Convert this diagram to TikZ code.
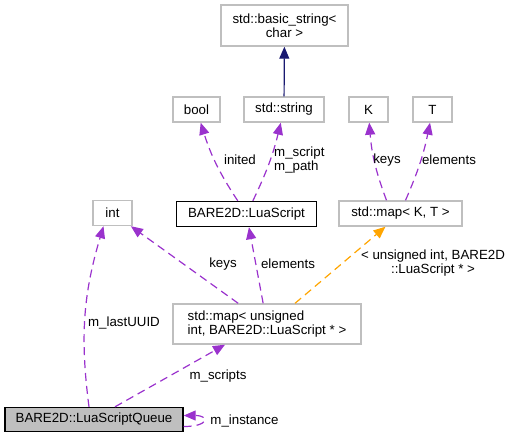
\documentclass[tikz,border=0pt]{standalone}
\usepackage{fontspec}
\setmainfont{Liberation Sans}
\usetikzlibrary{arrows.meta}
\definecolor{edgepurple}{HTML}{9A32CD}
\definecolor{edgeorange}{HTML}{FFA500}
\definecolor{edgenavy}{HTML}{191970}
\definecolor{boxgray}{HTML}{BFBFBF}
\tikzset{cls/.style = {draw=boxgray, line width=1.4pt, inner sep=0, align=center,
                       minimum height=25pt, font=\fontsize{13.3}{14.5}\selectfont}}
\tikzset{mcls/.style = {cls, draw=black}}
\tikzset{qcls/.style = {cls, draw=black, fill=boxgray}}
\tikzset{lbl/.style = {inner sep=0, align=center, font=\fontsize{13.3}{14.5}\selectfont}}
\tikzset{usage/.style = {edgepurple, line width=1.2pt, dash pattern=on 8pt off 5pt,
                         -{Triangle[length=12pt,width=10pt]}}}
\tikzset{tmpl/.style = {usage, edgeorange}}
\tikzset{inherit/.style = {edgenavy, line width=1.2pt, -{Triangle[length=12pt,width=10pt]}}}

\begin{document}
\begin{tikzpicture}[x=1pt, y=1pt]
      \useasboundingbox (0,0) rectangle (513,-440);
      \node [cls, minimum width=127pt, minimum height=41pt] (bstring) at (284.5, -25.5) {std::basic\_string<\\char >};
      \node [cls, minimum width=47pt] (bool) at (196.5, -109.5) {bool};
      \node [cls, minimum width=80pt] (sstring) at (284, -109.5) {std::string};
      \node [cls, minimum width=39pt] (K) at (368.5, -109.5) {K};
      \node [cls, minimum width=39pt] (T) at (432.5, -109.5) {T};
      \node [cls, minimum width=39pt] (int) at (112.5, -213) {int};
      \node [mcls, minimum width=140pt] (lscript) at (246.5, -214) {BARE2D::LuaScript};
      \node [cls, minimum width=123pt] (mapkt) at (400.5, -213.5) {std::map< K, T >};
      \node [cls, minimum width=188pt, minimum height=40pt, align=left] (mapscripts) at (267, -324) {std::map< unsigned\\ int, BARE2D::LuaScript * >};
      \node [qcls, minimum width=178pt, minimum height=24pt] (queue) at (94, -419.5) {BARE2D::LuaScriptQueue};
      \draw (sstring) edge [inherit] (bstring);
      \draw (lscript) edge [usage, bend left=8] (bool);
      \draw (lscript) edge [usage, bend right=6] (sstring);
      \draw ([xshift=-14pt]mapkt.north) edge [usage, bend left=8] (K);
      \draw ([xshift=5pt]mapkt.north) edge [usage, bend right=6] (T);
      \draw (mapscripts) edge [usage] (int);
      \draw (mapscripts) edge [usage] (lscript);
      \draw ([xshift=28pt]mapscripts.north) edge [tmpl] ([xshift=-15pt]mapkt.south);
      \draw ([xshift=-5pt]queue.north) edge [usage, bend left=12] ([xshift=-9pt]int.south);
      \draw ([xshift=21pt]queue.north) edge [usage] ([xshift=-42pt]mapscripts.south);
      \draw ([yshift=-7pt]queue.east) edge [usage, out=0, in=0, looseness=6] ([yshift=4pt]queue.east);
      \node [lbl] (linited) at (240, -160) {inited};
      \node [lbl, anchor=west, align=left] (lpath) at (274, -160) {m\_script\\m\_path};
      \node [lbl] (lkeys) at (387, -160) {keys};
      \node [lbl] (lelems) at (449, -160) {elements};
      \node [lbl] (lkeys2) at (223, -264) {keys};
      \node [lbl] (lelems2) at (288, -264) {elements};
      \node [lbl] (ltmpl) at (433, -263) {< unsigned int, BARE2D\\::LuaScript * >};
      \node [lbl] (luuid) at (124, -323) {m\_lastUUID};
      \node [lbl] (lscripts) at (218, -376) {m\_scripts};
      \node [lbl] (linstance) at (244.5, -421) {m\_instance};
    \end{tikzpicture}
\end{document}
